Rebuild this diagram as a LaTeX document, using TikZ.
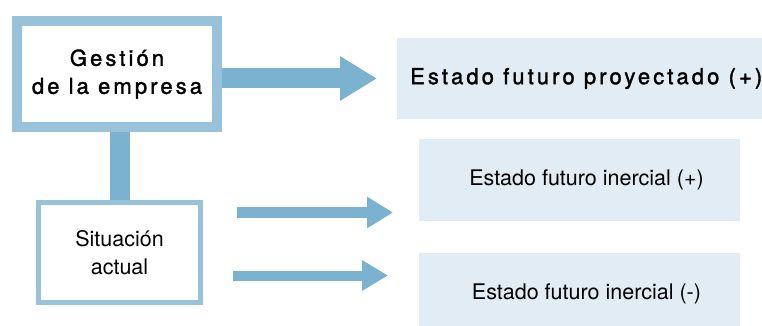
\documentclass[tikz,border=0pt]{standalone}
\usepackage{fontspec}
\setmainfont{TeX Gyre Heros}
\newfontfamily\headfont[LetterSpace=14,FakeBold=1.5]{TeX Gyre Heros}
\usetikzlibrary{arrows.meta,positioning}

\begin{document}
\begin{tikzpicture}[x=1pt,y=-1pt,
  frame/.style={draw=BoxLine,fill=white,align=center,inner sep=0pt},
  state/.style={fill=StateFill,inner sep=0pt,minimum height=82pt},
  link/.style={draw=FlowBlue,line width=20pt},
  flow/.style={draw=FlowBlue,fill=FlowBlue},
  headtext/.style={font=\headfont\fontsize{22}{28}\selectfont}
  ]

%Defining colours
\colorlet{BoxLine}{rgb,255:red,151;green,194;blue,217}
\colorlet{FlowBlue}{rgb,255:red,123;green,178;blue,208}
\colorlet{StateFill}{rgb,255:red,225;green,236;blue,244}

\useasboundingbox (0,0) rectangle (762,326);
\fontsize{21.5}{28}\selectfont

%Vertical link (under the frames)
\coordinate (linktop) at (120,128);
\coordinate (linkbot) at (120,202);
\draw[link] (linktop) -- (linkbot);

%Gestion
\node[frame,line width=10pt,minimum width=200pt,minimum height=105pt,
      headtext] (gestion) at (117,74) {Gestión\\de la empresa};

%Situacion
\node[frame,line width=5pt,minimum width=162pt,minimum height=100pt]
      (situacion) at (119.5,252.5) {Situación\\actual};

%Future states
\node[state,anchor=west,inner xsep=13pt,minimum height=81pt,headtext]
      (proyectado) at (397,78.5) {Estado futuro proyectado (+)};
\node[state,minimum width=321pt] (inercialpos) at (579.5,180) {\hspace*{14pt}Estado futuro inercial (+)};
\node[state,minimum width=321pt] (inercialneg) at (579.5,294) {\hspace*{14pt}Estado futuro inercial (-)};

%Arrows
\draw[flow,line width=20pt,-{Triangle[length=37pt,width=42pt]}]
      (gestion.east |- proyectado.west) -- ([xshift=-20pt]proyectado.west);
\coordinate (upstart) at ([xshift=34pt,yshift=40pt]situacion.east);
\coordinate (downstart) at ([xshift=30pt,yshift=-23pt]situacion.east);
\draw[flow,line width=11pt,-{Triangle[length=26pt,width=30pt]}] (upstart) -- ++(156pt,0);
\draw[flow,line width=10pt,-{Triangle[length=26pt,width=29pt]}] (downstart) -- ++(155pt,0);

\end{tikzpicture}
\end{document}
